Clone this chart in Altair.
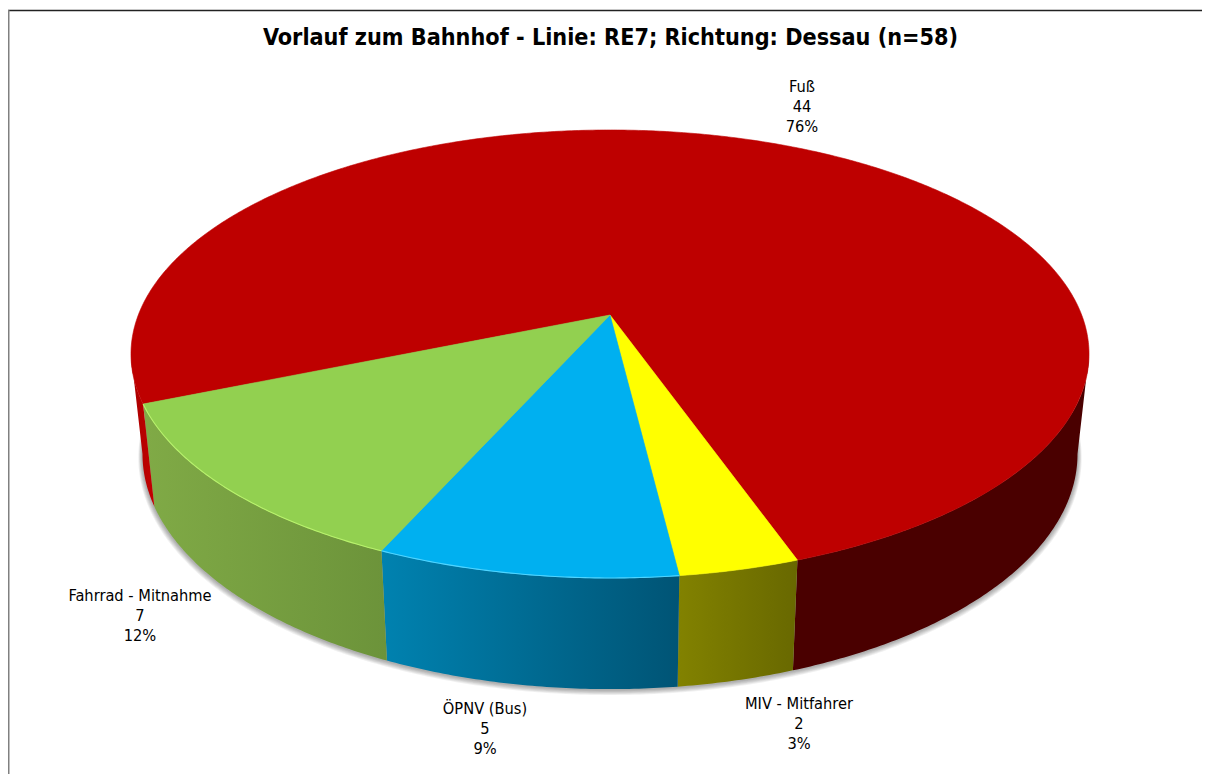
import numpy as np
import altair as alt

# ---- data -----------------------------------------------------------------
categories = ["Fuß", "MIV - Mitfahrer", "ÖPNV (Bus)", "Fahrrad - Mitnahme"]
values = [44, 2, 5, 7]
chart_title = "Vorlauf zum Bahnhof - Linie: RE7; Richtung: Dessau (n=58)"

# ---- styling --------------------------------------------------------------
top_colors = ["#BE0000", "#FFFF00", "#00B0F0", "#92D050"]
wall_stops = [
    ("#4A0000", "#4A0000"),
    ("#828200", "#686800"),
    ("#0082B0", "#005475"),
    ("#80AA46", "#6C933A"),
]
rim_highlight = {"ÖPNV (Bus)": "#4FD4FF", "Fahrrad - Mitnahme": "#B8F26C"}
sliver_stops = ("#A80000", "#C40000")
FONT = "DejaVu Sans Condensed"

# label layout, page pixels (centre x, centre y of the first line)
label_layout = {
    "Fuß": (802, 86),
    "MIV - Mitfahrer": (799, 703),
    "ÖPNV (Bus)": (485, 708),
    "Fahrrad - Mitnahme": (140, 595),
}

# ---- page layout ----------------------------------------------------------
PAGE_W, PAGE_H = 1194, 766
PAD_TOP = 46
ORIGIN = (8, 8 + PAD_TOP)

# perspective view of the disc
CX, CY = 610.0, 315.0       # where the pie's centre lands
RX, RY = 471.7, 217.2       # radii before the perspective divide
PERSP = 0.174               # perspective strength
START_DEG = 247.5           # clockwise from the back of the disc, first slice
BOTTOM_SX, BOTTOM_SY, BOTTOM_Y0 = 0.976, 1.05, 413.0


def rim(theta_deg):
    t = np.radians(np.asarray(theta_deg, dtype=float) - 90)
    w = 1 - PERSP * np.sin(t)
    return RX * np.cos(t) / w, RY * np.sin(t) / w


def top_pts(theta):
    x, y = rim(theta)
    return np.column_stack([CX + x, CY + y])


def bottom_pts(theta, grow=1.0, dy=0.0):
    x, y = rim(theta)
    return np.column_stack(
        [CX + BOTTOM_SX * grow * x, BOTTOM_Y0 + BOTTOM_SY * grow * y + dy]
    )


def arc(a, b):
    return np.linspace(a, b, max(int(abs(b - a) * 2), 2) + 1)


def feature(name, pts, kind="Polygon"):
    coords = [[float(x), float(y)] for x, y in pts]
    if kind == "Polygon":
        coords.append(coords[0])
        coords = [coords]
    return {
        "type": "Feature",
        "properties": {"name": name},
        "geometry": {"type": kind, "coordinates": coords},
    }


projection = dict(type="identity", scale=1, translate=[-ORIGIN[0], -ORIGIN[1]])


def gradient(c0, c1):
    return alt.LinearGradient(
        gradient="linear",
        x1=0, y1=0, x2=1, y2=0,
        stops=[alt.GradientStop(color=c0, offset=0), alt.GradientStop(color=c1, offset=1)],
    )


# slice spans, clockwise, from the values
total = sum(values)
spans = []
a = START_DEG
for v in values:
    spans.append((a, a + 360 * v / total))
    a += 360 * v / total

EXTREME = np.degrees(np.arcsin(PERSP))   # where the silhouette is widest
layers = []

# soft drop shadow under the disc
ring = arc(0, 360)[:-1]
for grow, dy in [(1.009, 3.5), (1.0075, 3), (1.006, 2.5), (1.0045, 2), (1.003, 1.5), (1.0015, 1)]:
    layers.append(
        alt.Chart(alt.Data(values=[feature("shadow", bottom_pts(ring, grow, dy))]))
        .mark_geoshape(fill="#000000", fillOpacity=0.06, strokeWidth=0)
        .project(**projection)
    )

# walls
for name, (s, e), (c0, c1) in zip(categories, spans, wall_stops):
    if name == categories[0]:
        # only the part of the big slice facing the viewer: right side, dark
        e_vis = (e % 360)
        s_vis = 90 + EXTREME
    else:
        s_vis, e_vis = s % 360, e % 360
        if e_vis < s_vis:
            e_vis += 360
    th = arc(s_vis, e_vis)
    pts = np.vstack([top_pts(th), bottom_pts(th[::-1])])
    layers.append(
        alt.Chart(alt.Data(values=[feature(name, pts)]))
        .mark_geoshape(fill=gradient(c0, c1), strokeWidth=0)
        .project(**projection)
    )

# left sliver of the big slice
th = arc(START_DEG, 270 - EXTREME)
pts = np.vstack([top_pts(th), bottom_pts(th[::-1])])
layers.append(
    alt.Chart(alt.Data(values=[feature(categories[0], pts)]))
    .mark_geoshape(fill=gradient(*sliver_stops), strokeWidth=0)
    .project(**projection)
)

# top faces
faces = []
for name, (s, e) in zip(categories, spans):
    faces.append(feature(name, np.vstack([[[CX, CY]], top_pts(arc(s, e))])))
color_scale = alt.Scale(domain=categories, range=top_colors)
layers.append(
    alt.Chart(alt.Data(values=faces))
    .mark_geoshape(strokeWidth=0.6)
    .encode(
        fill=alt.Fill("properties.name:N", scale=color_scale, legend=None),
        stroke=alt.Stroke("properties.name:N", scale=color_scale, legend=None),
    )
    .project(**projection)
)

# bright edge on the rim of the front slices
for name, (s, e) in zip(categories, spans):
    if name in rim_highlight:
        layers.append(
            alt.Chart(alt.Data(values=[feature(name, top_pts(arc(s, e)), "LineString")]))
            .mark_geoshape(filled=False, stroke=rim_highlight[name], strokeWidth=1.1)
            .project(**projection)
        )

# frame of the picture
frame_top = alt.Chart(alt.Data(values=[{"a": 0}])).mark_rule(color="#222222", strokeWidth=1.5).encode(
    x=alt.value(0), x2=alt.value(PAGE_W), y=alt.value(10.5 - ORIGIN[1])
)
frame_left = alt.Chart(alt.Data(values=[{"a": 0}])).mark_rule(color="#808080", strokeWidth=1.5).encode(
    x=alt.value(0.75), y=alt.value(10 - ORIGIN[1]), y2=alt.value(PAGE_H - PAD_TOP)
)
layers += [frame_top, frame_left]

# labels
labels = []
for name, v in zip(categories, values):
    lx, ly = label_layout[name]
    labels.append(
        {
            "t": f"{name}\n{v}\n{round(100 * v / total)}%",
            "x": lx - ORIGIN[0],
            "y": ly - ORIGIN[1],
        }
    )
layers.append(
    alt.Chart(alt.Data(values=labels))
    .mark_text(font=FONT, fontSize=16.3, color="#000000", lineBreak="\n", lineHeight=20.4, align="center", baseline="middle", dy=0.5)
    .encode(
        x=alt.X("x:Q", scale=None, axis=None),
        y=alt.Y("y:Q", scale=None, axis=None),
        text="t:N",
    )
)

chart = (
    alt.layer(*layers)
    .properties(
        width=PAGE_W,
        height=PAGE_H - PAD_TOP,
        padding={"left": 0, "right": 0, "top": PAD_TOP, "bottom": 0},
        autosize=alt.AutoSizeParams(type="none"),
        background="#FFFFFF",
        title=alt.TitleParams(
            chart_title, font=FONT, fontSize=23.2, fontWeight="bold", color="#000000",
            anchor="middle", offset=-41, dx=5.5,
        ),
    )
    .configure_view(stroke=None)
)

chart.save("out.html", embed_options={"renderer": "svg", "actions": False})
